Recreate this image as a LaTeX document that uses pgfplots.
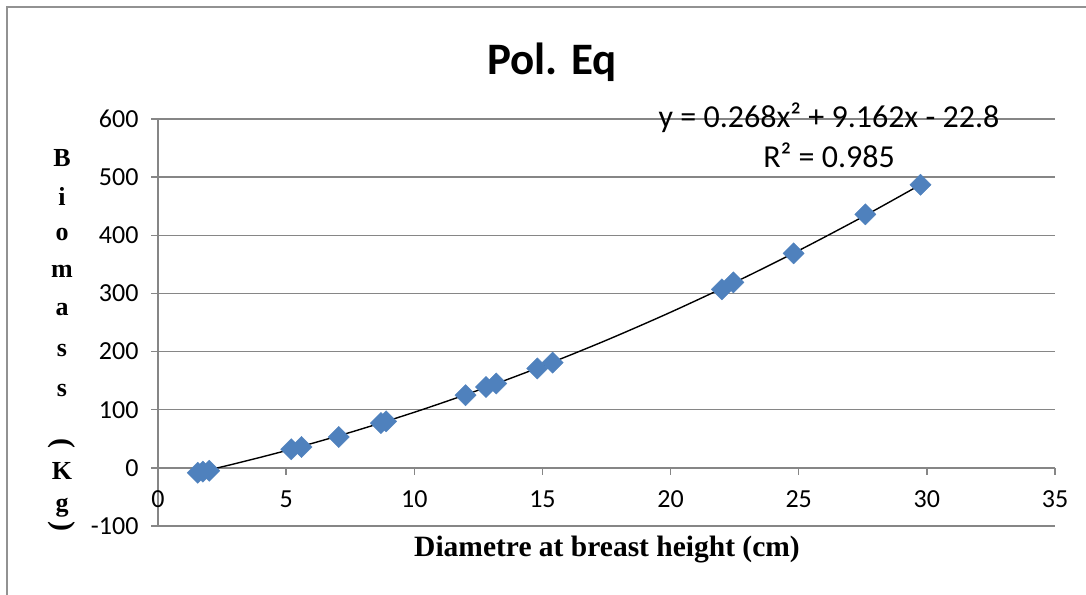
\documentclass[border=0pt]{standalone}
\usepackage{pgfplots}
\pgfplotsset{compat=1.18}
\usepackage{graphicx}
\usepackage{fontspec}
\setmainfont{Carlito}
\newfontfamily\timesfont{Liberation Serif}
\definecolor{gridgray}{RGB}{134,134,134}
\definecolor{markblue}{RGB}{79,129,189}
\begin{document}
\begin{tikzpicture}
\useasboundingbox (0pt,0pt) rectangle (1086pt,594pt);
\draw[color=gridgray!90, line width=1.2pt] (7pt,-5pt) -- (7pt,587pt) -- (1095pt,587pt);
\begin{axis}[
  at={(158pt,68pt)}, anchor=south west,
  scale only axis, width=897pt, height=407pt,
  xmin=0, xmax=35, ymin=-100, ymax=600,
  xtick={0,5,...,35}, xticklabels={0,5,10,15,20,25,30,35},
  ytick={-100,0,...,600}, yticklabels={-100,0,100,200,300,400,500,600},
  axis x line*=middle, axis y line*=left,
  hide obscured x ticks=false, hide obscured y ticks=false,
  xtick align=outside, ytick align=outside,
  major tick length=7pt,
  tick style={gridgray, line width=1.3pt},
  axis line style={gridgray, line width=1.3pt},
  ymajorgrids, major grid style={gridgray, line width=1.3pt},
  tick label style={font=\fontsize{26}{31}\selectfont},
  xticklabel style={yshift=-12pt},
  yticklabel style={xshift=-9pt},
  clip=false,
]
\addplot[only marks, mark=square*, mark size=7.5pt,
  mark options={rotate=45, fill=markblue, draw=markblue}] coordinates {
(1.55,-8.5) (1.75,-6.5) (2.0,-5) (5.2,32) (5.6,36) (7.05,53) (8.7,77) (8.9,80)
(12.0,125) (12.8,139) (13.2,145) (14.8,171) (15.4,181) (22.0,307) (22.45,319)
(24.8,369) (27.6,436) (29.75,487)
};
\addplot[black, line width=1.4pt, smooth] coordinates {
(1.5,-8.45) (3,7.10) (5,29.71) (7.5,60.99) (10,95.62) (12.5,133.60) (15,174.93)
(17.5,219.61) (20,267.64) (22.5,319.02) (25,373.75) (27.5,431.83) (29.8,488.22)
};
\end{axis}
\node[font=\fontsize{45}{52}\selectfont\bfseries] at (552pt,532pt) {Pol. Eq};
\node[font=\fontsize{32}{38}\selectfont] at (829pt,476pt) {y = 0.268x² + 9.162x - 22.8};
\node[font=\fontsize{32}{38}\selectfont] at (829pt,439pt) {R² = 0.985};
\node[font=\fontsize{29.5}{34}\selectfont\timesfont\bfseries] at (607pt,44pt) {Diametre at breast height (cm)};
\begin{scope}[every node/.style={font=\fontsize{26}{30}\selectfont\timesfont\bfseries, inner sep=0pt}]
\node[anchor=base] at (62pt,427pt) {B};
\node[anchor=base] at (62pt,388pt) {i};
\node[anchor=base] at (62pt,353pt) {o};
\node[anchor=base] at (62pt,316pt) {m};
\node[anchor=base] at (62pt,278pt) {a};
\node[anchor=base] at (62pt,237pt) {s};
\node[anchor=base] at (62pt,197pt) {s};
\node at (62pt,149pt) {\rotatebox[origin=c]{-90}{\fontsize{30}{34}\selectfont(}};
\node[anchor=base] at (62pt,114pt) {K};
\node[anchor=base] at (62pt,82pt) {g};
\node at (62pt,66pt) {\rotatebox[origin=c]{-90}{\fontsize{30}{34}\selectfont)}};
\end{scope}
\end{tikzpicture}
\end{document}
